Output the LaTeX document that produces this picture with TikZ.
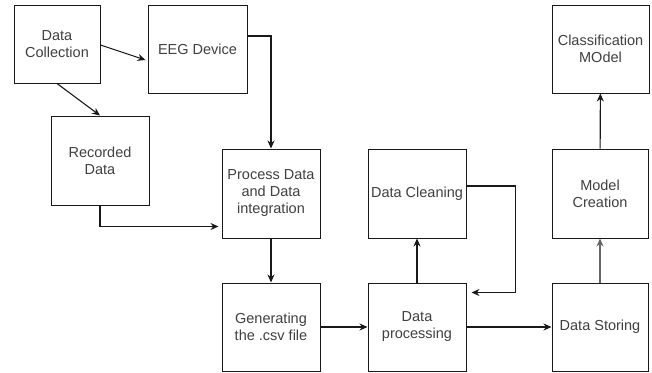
\documentclass[tikz,border=0pt]{standalone}
\usepackage{fontspec}
\setmainfont{Liberation Sans}
\usetikzlibrary{arrows.meta,calc}
\definecolor{txt}{HTML}{404040}
\tikzset{
  box/.style={draw=black!90, line width=1pt, fill=white, align=center, text=txt,
    font=\fontsize{14.5}{17}\selectfont, inner sep=2pt},
  conn/.style={draw=black!90, line width=1.1pt, -{Stealth[length=8pt,width=7pt]}}
}
\begin{document}
\begin{tikzpicture}[x=1pt,y=-1pt]
\fill[white] (0,0) rectangle (652,372);
\useasboundingbox (0,0) rectangle (652,372);
\node[box, minimum width=86pt, minimum height=78pt] (dc) at (57,44) {Data\\Collection};
\node[box, minimum width=99pt, minimum height=88pt] (eeg) at (197.5,49) {EEG Device};
\node[box, minimum width=98pt, minimum height=89pt] (rec) at (100,160.5) {Recorded\\Data};
\node[box, minimum width=98pt, minimum height=89pt] (proc) at (271,193.5) {Process Data\\and Data\\integration};
\node[box, minimum width=98pt, minimum height=88pt] (gen) at (271,327) {Generating\\the .csv file};
\node[box, minimum width=98pt, minimum height=88pt] (dp) at (417,327) {Data\\processing};
\node[box, minimum width=98pt, minimum height=89pt] (clean) at (417,193.5) {Data Cleaning};
\node[box, minimum width=96pt, minimum height=88pt] (store) at (600,327) {Data Storing};
\node[box, minimum width=96pt, minimum height=89pt] (mc) at (600,193.5) {Model\\Creation};
\node[box, minimum width=97pt, minimum height=88pt] (cm) at (600.5,49) {Classification\\MOdel};
\coordinate (back) at ($(dp.north east)+(5,10)$);

\draw[conn] ($(dc.east)+(0,1)$) -- ($(eeg.west)+(-2,11)$);
\draw[conn] (dc.south) -- (rec.north);
\draw[conn] (rec.south) |- ($(proc.west)+(-3,33)$);
\draw[conn] ($(eeg.east)+(0,-13)$) -| (proc.north);
\draw[conn] (proc) -- (gen);
\draw[conn] (gen) -- (dp);
\draw[conn] (dp) -- (clean);
\draw[conn] ($(clean.east)+(0,-7.5)$) -- ++(49,0) |- (back);
\draw[conn] (dp) -- (store);
\draw[conn, draw=black!60] (store) -- (mc);
\draw[conn] (mc) -- (cm);
\end{tikzpicture}
\end{document}
